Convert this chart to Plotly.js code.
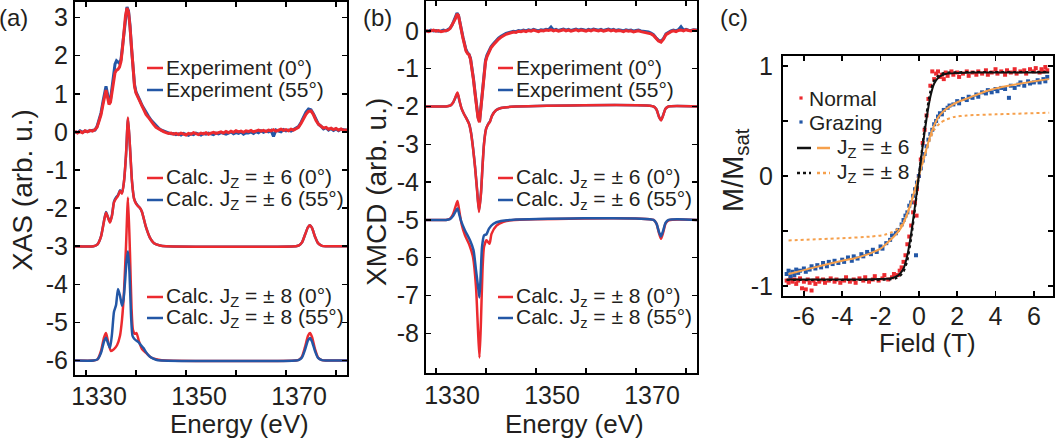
<!DOCTYPE html>
<html><head><meta charset="utf-8">
<script src="https://cdn.plot.ly/plotly-3.0.1.min.js"></script>
<style>html,body{margin:0;padding:0;background:#fff;}#g{width:1056px;height:443px;}</style>
</head><body><div id="g"></div>
<script>
// ---------------- Panel (a): XAS ----------------
const xasE = [1327.8,1328.3,1328.8,1329.3,1329.8,1330.3,1330.8,1331.3,1331.8,
1332.2,1332.6,1333.0,1333.4,
1333.7,1334.0,1334.3,1334.6,1334.9,1335.2,1335.5,1335.8,1336.1,1336.4,1336.7,1337.0,1337.3,1337.6,1337.9,1338.2,1338.5,1338.8,1339.1,1339.4,1339.7,
1340.0,1340.4,1340.8,1341.2,1341.6,1342.0,
1342.5,1343.0,1343.5,1344.0,1344.5,1345.0,1345.5,1346.0,1346.5,1347.0,
1347.5,1348.0,1348.5,1349.0,1349.5,1350.0,1350.5,1351.0,1351.5,1352.0,
1352.5,1353.0,1353.5,1354.0,1354.5,1355.0,1355.5,1356.0,1356.5,1357.0,
1357.5,1358.0,1358.5,1359.0,1359.5,1360.0,1360.5,1361.0,1361.5,1362.0,
1362.5,1363.0,1363.5,1364.0,1364.5,1365.0,1365.5,1366.0,1366.5,1367.0,
1367.5,1368.0,1368.5,1369.0,1369.5,1370.0,1370.5,1371.0,1371.5,1372.0,
1372.5,1373.0,1373.5,1374.0,1374.5,1375.0,1375.5,1376.0,1376.5,1377.0,
1377.5,1378.0,1378.5,1379.0,1379.5,1380.0,1380.5,1381.0,1381.5,1382.2];
const xasExp0 = [0.02,-0.03,0.01,-0.02,0.03,0.0,0.04,0.02,0.06,
0.12,0.28,0.45,0.72,
0.95,1.1,0.92,0.72,0.78,1.05,1.4,1.55,1.62,1.64,1.7,1.85,2.2,2.65,3.05,3.25,3.15,2.75,2.15,1.55,1.2,
1.02,0.9,0.78,0.66,0.56,0.46,
0.38,0.28,0.2,0.12,0.08,0.03,0.01,-0.02,-0.04,-0.03,
-0.06,-0.04,-0.07,-0.03,-0.05,-0.08,-0.04,-0.06,-0.02,-0.05,
-0.07,-0.03,-0.05,-0.02,-0.06,-0.03,-0.01,-0.04,-0.02,0.0,
-0.03,0.01,-0.02,0.02,-0.01,0.03,0.0,0.02,-0.01,0.03,
0.01,0.04,0.0,0.03,0.05,0.02,0.04,0.01,0.05,0.03,
0.06,0.02,0.05,0.07,0.04,0.06,0.03,0.07,0.05,0.08,
0.12,0.22,0.35,0.46,0.54,0.55,0.45,0.3,0.2,0.14,
0.1,0.12,0.07,0.1,0.06,0.09,0.05,0.08,0.04,0.06];
const xasExp55 = [0.0,-0.02,0.03,-0.01,0.02,0.01,0.03,0.04,0.05,
0.14,0.3,0.5,0.8,
1.05,1.2,1.0,0.78,0.85,1.15,1.55,1.78,1.87,1.84,1.8,1.9,2.25,2.7,3.1,3.28,3.18,2.8,2.2,1.6,1.25,
1.05,0.95,0.82,0.7,0.6,0.5,
0.41,0.31,0.23,0.15,0.1,0.05,0.02,0.0,-0.03,-0.05,
-0.04,-0.07,-0.05,-0.08,-0.04,-0.06,-0.09,-0.05,-0.07,-0.03,
-0.06,-0.08,-0.04,-0.06,-0.03,-0.05,-0.07,-0.03,-0.05,-0.02,
-0.04,-0.06,-0.03,0.0,-0.05,-0.02,-0.04,0.0,-0.06,-0.02,
-0.03,0.0,-0.04,0.01,-0.02,0.03,-0.01,0.02,0.0,0.04,
-0.12,0.05,0.02,0.0,0.06,0.03,0.05,0.02,0.06,0.09,
0.14,0.25,0.4,0.52,0.6,0.58,0.47,0.32,0.2,0.15,
0.08,0.11,0.05,0.09,0.04,0.08,0.03,0.07,0.05,0.04];

const xas6E = [1327.8,1331.5,1332.3,1333.0,1333.6,1334.0,1334.4,1334.8,1335.2,1335.6,1336.0,1336.4,1336.8,1337.2,1337.6,1338.0,1338.4,1338.8,1339.2,1339.6,1340.0,1340.4,1340.8,1341.2,1341.6,1342.0,1342.8,1343.6,1344.8,1346.0,1372.0,1372.6,1373.2,1373.8,1374.4,1374.8,1375.2,1375.8,1376.4,1377.2,1378.0,1382.2];
const xas6V0 = [-3.0,-3.0,-2.95,-2.75,-2.35,-2.12,-2.25,-2.38,-2.2,-1.85,-1.75,-1.68,-1.55,-1.62,-1.3,-0.6,0.38,-0.4,-1.3,-1.75,-1.88,-1.95,-2.0,-2.1,-2.3,-2.5,-2.78,-2.92,-2.98,-3.0,-3.0,-2.98,-2.9,-2.7,-2.5,-2.45,-2.52,-2.75,-2.92,-2.99,-3.0,-3.0];
const xas6V55 = [-3.0,-3.0,-2.95,-2.74,-2.33,-2.1,-2.24,-2.36,-2.18,-1.83,-1.72,-1.66,-1.53,-1.6,-1.3,-0.62,0.35,-0.42,-1.3,-1.74,-1.87,-1.94,-2.0,-2.1,-2.3,-2.5,-2.78,-2.92,-2.98,-3.0,-3.0,-2.98,-2.9,-2.7,-2.5,-2.45,-2.52,-2.75,-2.92,-2.99,-3.0,-3.0];

const xas8E0 = [1327.8,1331.5,1332.3,1333.0,1333.6,1334.0,1334.4,1335.0,1335.6,1336.2,1336.8,1337.2,1337.6,1338.0,1338.4,1338.8,1339.1,1339.4,1339.8,1340.1,1340.6,1341.2,1342.0,1343.0,1344.5,1346.0,1372.0,1372.6,1373.2,1373.8,1374.4,1374.8,1375.2,1375.8,1376.4,1377.2,1378.0,1382.2];
const xas8V0 = [-6,-6,-5.97,-5.75,-5.4,-5.28,-5.5,-5.75,-5.7,-5.6,-5.35,-4.93,-4.2,-3.0,-1.72,-3.2,-4.6,-5.2,-5.3,-5.28,-5.5,-5.7,-5.8,-5.92,-5.98,-6,-6,-5.98,-5.9,-5.65,-5.35,-5.28,-5.38,-5.7,-5.92,-5.99,-6,-6];
const xas8E55 = [1327.8,1331.5,1332.3,1333.0,1333.6,1334.0,1334.4,1334.8,1335.2,1335.6,1336.0,1336.4,1336.8,1337.2,1337.5,1337.8,1338.1,1338.4,1338.7,1339.0,1339.3,1339.6,1340.0,1340.5,1341.0,1341.5,1342.0,1342.8,1344.0,1345.0,1372.0,1372.6,1373.2,1373.8,1374.4,1374.8,1375.2,1375.8,1376.4,1377.2,1378.0,1382.2];
const xas8V55 = [-6,-6,-5.97,-5.8,-5.5,-5.4,-5.55,-5.67,-5.3,-4.72,-4.55,-4.12,-4.3,-4.56,-4.4,-3.95,-3.4,-3.13,-3.7,-4.8,-5.35,-5.42,-5.47,-5.52,-5.6,-5.67,-5.78,-5.9,-5.98,-6,-6,-5.98,-5.92,-5.72,-5.47,-5.41,-5.5,-5.75,-5.93,-5.99,-6,-6];

// ---------------- Panel (b): XMCD ----------------
const mcdE = [1328.0,1328.5,1329.0,1329.5,1330.0,1330.5,1331.0,1331.5,1332.0,
1332.4,1332.8,1333.2,1333.6,
1333.9,1334.2,1334.5,1334.8,1335.1,1335.4,1335.7,1336.0,1336.3,1336.6,1336.9,1337.2,1337.5,1337.8,1338.1,1338.4,1338.7,1339.0,1339.3,1339.6,1339.9,
1340.2,1340.6,1341.0,1341.4,1341.8,1342.1,
1342.5,1343.0,1343.5,1344.0,1344.5,1345.0,1345.5,1346.0,1346.5,1347.0,
1347.5,1348.0,1348.5,1349.0,1349.5,1350.0,1350.5,1351.0,1351.5,1352.0,
1352.5,1353.0,1353.5,1354.0,1354.5,1355.0,1355.5,1356.0,1356.5,1357.0,
1357.5,1358.0,1358.5,1359.0,1359.5,1360.0,1360.5,1361.0,1361.5,1362.0,
1362.5,1363.0,1363.5,1364.0,1364.5,1365.0,1365.5,1366.0,1366.5,1367.0,
1367.5,1368.0,1368.5,1369.0,1369.5,1370.0,1370.5,1371.0,1371.5,1372.0,
1372.5,1373.0,1373.5,1374.0,1374.5,1375.0,1375.5,1376.0,1376.5,1377.0,
1377.5,1378.0,1378.5,1379.0,1379.5,1380.0,1380.5,1381.0,1381.5,1382.2];
const mcdExp0 = [0.01,-0.02,0.0,0.02,-0.01,0.01,-0.02,0.0,0.01,
0.02,0.06,0.14,0.25,
0.33,0.45,0.4,0.15,0.0,-0.2,-0.42,-0.53,-0.6,-0.63,-0.75,-0.98,-1.3,-1.65,-2.0,-2.3,-2.42,-2.0,-1.5,-1.06,-0.82,
-0.68,-0.55,-0.45,-0.38,-0.31,-0.26,
-0.22,-0.17,-0.12,-0.09,-0.07,-0.05,-0.03,-0.04,-0.01,-0.02,
0.0,-0.02,0.01,-0.01,0.02,0.0,-0.02,0.01,0.0,0.02,
0.01,0.03,0.0,0.02,-0.01,0.01,0.03,0.0,0.02,-0.01,
0.01,0.03,0.0,0.02,0.01,-0.01,0.02,0.0,0.03,0.01,
0.0,0.02,-0.01,0.01,0.03,0.0,0.02,-0.01,0.01,0.0,
-0.02,0.01,-0.01,0.0,-0.03,-0.01,0.0,-0.02,-0.03,-0.04,
-0.05,-0.08,-0.12,-0.2,-0.27,-0.3,-0.22,-0.1,-0.05,-0.02,
0.0,-0.02,0.01,0.02,0.0,0.03,0.01,0.0,0.02,0.01];
const mcdExp55 = [0.0,-0.01,0.02,0.0,0.01,-0.01,0.0,0.02,0.0,
0.03,0.07,0.15,0.27,
0.35,0.47,0.41,0.17,0.02,-0.17,-0.38,-0.5,-0.58,-0.62,-0.73,-0.95,-1.27,-1.62,-1.97,-2.27,-2.4,-1.97,-1.45,-1.02,-0.78,
-0.64,-0.51,-0.42,-0.35,-0.28,-0.23,
-0.19,-0.14,-0.1,-0.07,-0.05,-0.03,-0.01,-0.02,0.01,0.0,
0.02,0.0,0.03,0.01,0.04,0.02,0.0,0.03,0.02,0.04,
0.03,0.1,0.02,0.04,0.01,0.03,0.05,0.02,0.04,0.01,
0.03,0.05,0.02,0.04,0.03,0.01,0.04,0.02,0.05,0.03,
0.02,0.04,0.01,0.03,0.05,0.02,0.04,0.01,0.03,0.02,
0.0,0.03,0.01,0.02,-0.01,0.01,0.02,0.0,-0.01,-0.02,
-0.03,-0.06,-0.1,-0.18,-0.25,-0.28,-0.2,-0.08,-0.03,0.0,
0.02,0.0,0.03,0.11,0.02,0.04,0.02,0.01,0.03,0.02];

const mcd6E = [1328.0,1332.0,1332.8,1333.4,1333.9,1334.3,1334.7,1335.1,1335.6,1336.2,1336.6,1337.0,1337.4,1337.8,1338.2,1338.6,1339.0,1339.3,1339.6,1340.0,1340.4,1340.8,1341.2,1342.0,1343.0,1345.0,1373.5,1374.1,1374.6,1375.0,1375.4,1375.9,1376.5,1382.2];
const mcd6V0 = [-2,-2,-1.98,-1.9,-1.75,-1.63,-1.85,-2.05,-2.2,-2.35,-2.46,-2.7,-3.1,-3.6,-4.2,-4.79,-4.3,-3.6,-3.0,-2.6,-2.48,-2.4,-2.25,-2.1,-2.04,-2.01,-2,-2.08,-2.28,-2.37,-2.25,-2.06,-2,-2];
const mcd6V55 = [-2,-2,-1.98,-1.9,-1.76,-1.65,-1.86,-2.05,-2.2,-2.34,-2.45,-2.68,-3.08,-3.58,-4.17,-4.75,-4.27,-3.58,-2.98,-2.6,-2.47,-2.39,-2.24,-2.1,-2.04,-2.01,-2,-2.08,-2.27,-2.36,-2.24,-2.06,-2,-2];

const mcd8E0 = [1328.0,1332.0,1332.8,1333.4,1333.9,1334.3,1334.7,1335.1,1335.8,1336.7,1337.4,1338.0,1338.4,1338.7,1339.0,1339.3,1339.6,1340.1,1340.7,1341.1,1342.1,1343.5,1345.0,1373.5,1374.1,1374.6,1375.0,1375.4,1375.9,1376.5,1382.2];
const mcd8V0 = [-5,-5,-4.97,-4.85,-4.65,-4.5,-4.8,-5.1,-5.41,-5.67,-5.98,-6.77,-7.92,-8.64,-7.65,-6.33,-5.72,-5.54,-5.63,-5.37,-5.15,-5.05,-5.01,-5,-5.1,-5.35,-5.5,-5.35,-5.1,-5.01,-5];
const mcd8E55 = [1328.0,1332.0,1332.8,1333.4,1333.9,1334.3,1334.7,1335.1,1335.8,1336.8,1337.5,1338.0,1338.5,1338.7,1338.95,1339.2,1339.6,1340.1,1340.6,1341.5,1343.0,1345.0,1373.5,1374.1,1374.6,1375.0,1375.4,1375.9,1376.5,1382.2];
const mcd8V55 = [-5,-5,-4.98,-4.9,-4.78,-4.7,-4.88,-5.06,-5.28,-5.54,-5.8,-6.33,-6.86,-7.05,-6.42,-5.72,-5.41,-5.38,-5.23,-5.1,-5.03,-5.0,-5,-5.1,-5.32,-5.44,-5.3,-5.08,-5,-5];

// ---------------- Panel (c): magnetisation ----------------
const normB = [-6.9,-6.8,-6.7,-6.6,-6.5,-6.4,-6.3,-6.2,-6.1,-6.0,-5.9,-5.8,-5.7,-5.6,-5.5,-5.4,-5.3,-5.2,-5.0,-4.9,-4.7,-4.6,-4.4,-4.3,-4.1,-3.9,-3.8,-3.6,-3.4,-3.3,-3.1,-2.9,-2.8,-2.6,-2.4,-2.3,-2.1,-1.9,-1.8,-1.6,-1.4,-1.3,-1.1,-1.0,-0.9,-0.8,-0.7,-0.6,-0.5,-0.4,-0.3,-0.12,-0.2,-0.1,0.0,0.1,0.2,0.3,0.4,0.5,0.6,0.7,0.8,0.9,1.0,1.1,1.2,1.3,1.4,1.5,1.7,1.8,2.0,2.1,2.3,2.5,2.6,2.8,3.0,3.1,3.3,3.5,3.6,3.8,4.0,4.1,4.3,4.5,4.6,4.8,5.0,5.1,5.3,5.5,5.6,5.8,6.0,6.1,6.3,6.4,6.5,6.6,6.7];
const normM = [-0.95,-0.97,-0.93,-0.96,-0.94,-0.98,-0.95,-0.93,-1.02,-0.96,-1.03,-0.94,-0.97,-1.04,-0.95,-0.98,-0.93,-0.96,-0.94,-0.97,-0.95,-0.93,-0.96,-0.94,-0.97,-0.95,-0.92,-0.96,-0.94,-0.97,-0.93,-0.95,-0.92,-0.96,-0.94,-0.91,-0.95,-0.93,-0.9,-0.94,-0.92,-0.89,-0.9,-0.86,-0.83,-0.78,-0.72,-0.62,-0.55,-0.45,-0.33,-0.36,-0.24,-0.12,0.0,0.15,0.3,0.42,0.55,0.7,0.82,0.95,0.88,0.93,0.95,0.9,0.92,0.88,0.94,0.91,0.95,0.92,0.94,0.9,0.93,0.95,0.91,0.94,0.92,0.95,0.93,0.96,0.92,0.94,0.97,0.93,0.95,0.92,0.96,0.94,0.97,0.93,0.95,0.96,0.93,0.97,0.95,0.98,0.94,0.97,0.95,0.99,0.96];
const grazB = [-6.9,-6.8,-6.7,-6.6,-6.5,-6.4,-6.3,-6.2,-6.0,-5.9,-5.7,-5.6,-5.4,-5.3,-5.1,-5.0,-4.8,-4.7,-4.5,-4.4,-4.2,-4.0,-3.9,-3.7,-3.5,-3.4,-3.2,-3.0,-2.9,-2.7,-2.5,-2.4,-2.2,-2.0,-1.9,-1.7,-1.5,-1.4,-1.2,-1.1,-0.9,-0.8,-0.7,-0.6,-0.5,-0.4,-0.3,-0.15,-0.2,-0.1,0.0,0.1,0.2,0.3,0.4,0.5,0.6,0.7,0.8,0.9,1.0,1.1,1.2,1.3,1.5,1.6,1.8,2.0,2.1,2.3,2.5,2.6,2.8,3.0,3.1,3.3,3.5,3.6,3.8,4.0,4.1,4.3,4.5,4.7,4.8,5.0,5.2,5.3,5.5,5.7,5.8,6.0,6.2,6.3,6.5,6.6,6.7];
const grazM = [-0.89,-0.86,-0.91,-0.87,-0.9,-0.85,-0.88,-0.86,-0.84,-0.87,-0.85,-0.82,-0.84,-0.81,-0.83,-0.79,-0.82,-0.78,-0.8,-0.77,-0.79,-0.76,-0.78,-0.74,-0.77,-0.73,-0.75,-0.71,-0.73,-0.69,-0.71,-0.67,-0.69,-0.64,-0.66,-0.61,-0.58,-0.54,-0.52,-0.49,-0.44,-0.4,-0.36,-0.33,-0.27,-0.24,-0.18,-0.72,-0.12,-0.06,0.0,0.07,0.14,0.2,0.27,0.33,0.38,0.42,0.47,0.5,0.54,0.57,0.56,0.6,0.62,0.64,0.65,0.68,0.66,0.7,0.69,0.72,0.71,0.74,0.72,0.76,0.75,0.78,0.76,0.79,0.77,0.8,0.79,0.71,0.82,0.8,0.83,0.85,0.82,0.86,0.84,0.85,0.87,0.85,0.88,0.86,0.9];

const fitN6B = [-6.9,-3,-2,-1.5,-1.2,-1.0,-0.8,-0.6,-0.4,-0.2,0,0.2,0.4,0.6,0.8,1.0,1.2,1.5,2,3,6.8];
const fitN6M = [-0.94,-0.94,-0.935,-0.93,-0.915,-0.89,-0.84,-0.72,-0.52,-0.27,0,0.27,0.52,0.72,0.84,0.89,0.915,0.93,0.935,0.94,0.94];
const fitN8B = [-6.9,-3,-2,-1.5,-1.2,-1.0,-0.8,-0.6,-0.4,-0.2,0,0.2,0.4,0.6,0.8,1.0,1.2,1.5,2,3,6.8];
const fitN8M = [-0.945,-0.945,-0.943,-0.94,-0.93,-0.91,-0.87,-0.77,-0.57,-0.3,0,0.3,0.57,0.77,0.87,0.91,0.93,0.94,0.943,0.945,0.945];
const fitG6B = [-6.8,-6,-5,-4,-3.4,-3,-2.5,-2,-1.6,-1.3,-1,-0.8,-0.6,-0.4,-0.2,0,0.2,0.4,0.6,0.8,1.0,1.3,1.6,2,2.6,3.5,4.4,5.3,6.8];
const fitG6M = [-0.89,-0.855,-0.81,-0.77,-0.75,-0.73,-0.70,-0.66,-0.6,-0.55,-0.49,-0.43,-0.34,-0.24,-0.12,0,0.13,0.25,0.37,0.46,0.53,0.59,0.63,0.67,0.71,0.77,0.81,0.84,0.88];
const fitG8B = [-6.8,-4,-2.5,-1.8,-1.4,-1.1,-0.8,-0.6,-0.4,-0.2,0,0.2,0.4,0.6,0.8,1.1,1.4,1.8,2.5,4,6.8];
const fitG8M = [-0.585,-0.565,-0.55,-0.535,-0.51,-0.48,-0.42,-0.34,-0.24,-0.12,0,0.12,0.24,0.34,0.42,0.48,0.51,0.535,0.55,0.56,0.575];

// ---------------- tick labels & texts ----------------
const eTickVals = [1330,1350,1370];
const eTickText = ['1330','1350','1370'];
const eMinorVals = [1340,1360,1380];
const xasTickVals = [-6,-5,-4,-3,-2,-1,0,1,2,3];
const xasTickText = ['-6','-5','-4','-3','-2','-1','0','1','2','3'];
const mcdTickVals = [-8,-7,-6,-5,-4,-3,-2,-1,0];
const mcdTickText = ['-8','-7','-6','-5','-4','-3','-2','-1','0'];
const fTickVals = [-6,-4,-2,0,2,4,6];
const fTickText = ['-6','-4','-2','0','2','4','6'];
const mTickVals = [-1,0,1];
const mTickText = ['-1','0','1'];
const mMinorVals = [-0.5,0.5];
const legA = ['Experiment (0°)','Experiment (55°)','Calc. J<sub>Z</sub> = ± 6 (0°)','Calc. J<sub>Z</sub> = ± 6 (55°)','Calc. J<sub>Z</sub> = ± 8 (0°)','Calc. J<sub>Z</sub> = ± 8 (55°)'];
const legB = ['Experiment (0°)','Experiment (55°)','Calc. J<sub>z</sub> = ± 6 (0°)','Calc. J<sub>z</sub> = ± 6 (55°)','Calc. J<sub>z</sub> = ± 8 (0°)','Calc. J<sub>z</sub> = ± 8 (55°)'];
const legC = ['Normal','Grazing','J<sub>Z</sub> = ± 6','J<sub>Z</sub> = ± 8'];

// ---------------- styling ----------------
const W = 1056, H = 443;
const RED = '#ec2a2f', BLUE = '#2357a6', ORANGE = '#f6a04c', BLACK = '#111111', TXT = '#231f20';
const FONT = 'Liberation Sans, Arial, Helvetica, sans-serif';
const X = p => p / W, Y = p => 1 - p / H;

function ln(x, y, xa, ya, color, width, shape, dash) {
  return {x: x, y: y, xaxis: xa, yaxis: ya, type: 'scatter', mode: 'lines', showlegend: false, hoverinfo: 'skip',
    line: {color: color, width: width, shape: shape || 'linear', smoothing: 0.6, dash: dash || 'solid'}};
}
const traces = [
  ln(xasE, xasExp55, 'x', 'y', BLUE, 3),
  ln(xasE, xasExp0, 'x', 'y', RED, 3),
  ln(xas6E, xas6V55, 'x', 'y', BLUE, 2.5, 'spline'),
  ln(xas6E, xas6V0, 'x', 'y', RED, 2.5, 'spline'),
  ln(xas8E0, xas8V0, 'x', 'y', RED, 2.5, 'spline'),
  ln(xas8E55, xas8V55, 'x', 'y', BLUE, 2.5, 'spline'),
  ln(mcdE, mcdExp55, 'x2', 'y2', BLUE, 3),
  ln(mcdE, mcdExp0, 'x2', 'y2', RED, 3),
  ln(mcd6E, mcd6V55, 'x2', 'y2', BLUE, 2.5, 'spline'),
  ln(mcd6E, mcd6V0, 'x2', 'y2', RED, 2.5, 'spline'),
  ln(mcd8E0, mcd8V0, 'x2', 'y2', RED, 2.5, 'spline'),
  ln(mcd8E55, mcd8V55, 'x2', 'y2', BLUE, 2.5, 'spline'),
  {x: normB, y: normM, xaxis: 'x3', yaxis: 'y3', type: 'scatter', mode: 'markers', showlegend: false, hoverinfo: 'skip',
    marker: {color: RED, size: 4, symbol: 'square'}},
  {x: grazB, y: grazM, xaxis: 'x3', yaxis: 'y3', type: 'scatter', mode: 'markers', showlegend: false, hoverinfo: 'skip',
    marker: {color: BLUE, size: 4, symbol: 'square'}},
  ln(fitG8B, fitG8M, 'x3', 'y3', ORANGE, 2, 'spline', 'dot'),
  ln(fitG6B, fitG6M, 'x3', 'y3', ORANGE, 2, 'spline'),
  ln(fitN8B, fitN8M, 'x3', 'y3', BLACK, 2, 'spline', 'dot'),
  ln(fitN6B, fitN6M, 'x3', 'y3', BLACK, 2, 'spline')
];

const minorBase = {ticks: 'inside', ticklen: 5, tickwidth: 1.5, tickcolor: '#000', showgrid: false};
const axBase = {showline: true, linecolor: '#000', linewidth: 2, mirror: 'allticks', ticks: 'inside', ticklen: 5,
  tickwidth: 1.5, tickcolor: '#000', showgrid: false, zeroline: false, tickmode: 'array',
  tickfont: {family: FONT, size: 25, color: TXT}};
function ax(o) { return Object.assign({}, axBase, o); }

const shapes = [], annotations = [];
function legLine(x0, x1, y, color, dash) {
  shapes.push({type: 'line', xref: 'paper', yref: 'paper', x0: X(x0), x1: X(x1), y0: Y(y), y1: Y(y),
    line: {color: color, width: 2.5, dash: dash || 'solid'}});
}
function legDot(x, y, color) {
  shapes.push({type: 'rect', xref: 'paper', yref: 'paper', x0: X(x - 1.6), x1: X(x + 1.6), y0: Y(y + 1.6), y1: Y(y - 1.6),
    fillcolor: color, line: {width: 0}});
}
function txt(x, y, text, size, opts) {
  annotations.push(Object.assign({xref: 'paper', yref: 'paper', x: X(x), y: Y(y), text: text, showarrow: false,
    xanchor: 'left', yanchor: 'middle', font: {family: FONT, size: size, color: TXT}}, opts || {}));
}
// legends (a) and (b)
const legAy = [68, 90, 178, 200, 297, 318];
const legCol = [RED, BLUE, RED, BLUE, RED, BLUE];
legAy.forEach((y, i) => { legLine(147, 163, y, legCol[i]); txt(164, y, legA[i], 21); });
legAy.forEach((y, i) => { legLine(498, 513, y, legCol[i]); txt(514, y, legB[i], 21); });
// legend (c)
legDot(801, 98, RED); txt(807, 98, legC[0], 21);
legDot(801, 122, BLUE); txt(807, 122, legC[1], 21);
legLine(797, 811, 148, BLACK); legLine(817, 830, 148, ORANGE); txt(835, 148, legC[2], 21);
legLine(797, 811, 173, BLACK, 'dot'); legLine(817, 830, 173, ORANGE, 'dot'); txt(835, 173, legC[3], 21);
// panel labels
txt(13, 18, '(a)', 24, {xanchor: 'center'});
txt(377, 18, '(b)', 24, {xanchor: 'center'});
txt(734, 18, '(c)', 24, {xanchor: 'center'});
// axis titles
txt(239, 424, 'Energy (eV)', 26, {xanchor: 'center'});
txt(574, 424, 'Energy (eV)', 26, {xanchor: 'center'});
txt(927, 343, 'Field (T)', 26, {xanchor: 'center'});
txt(22, 190, 'XAS (arb. u.)', 28, {xanchor: 'center', textangle: -90});
txt(376, 192, 'XMCD (arb. u.)', 28, {xanchor: 'center', textangle: -90});
txt(735, 170, 'M/M<sub>sat</sub>', 29, {xanchor: 'center', textangle: -90});

const layout = {
  width: W, height: H, margin: {l: 0, r: 0, t: 0, b: 0}, paper_bgcolor: '#fff', plot_bgcolor: '#fff',
  showlegend: false, font: {family: FONT, color: TXT},
  xaxis: ax({domain: [X(75), X(347)], range: [1327.8, 1382.2], anchor: 'y', tickvals: eTickVals, ticktext: eTickText,
    ticklabelshift: 13, ticklabelstandoff: -2, minor: Object.assign({tickvals: eMinorVals}, minorBase)}),
  yaxis: ax({domain: [Y(375), Y(2)], range: [-6.38, 3.41], anchor: 'x', tickvals: xasTickVals, ticktext: xasTickText}),
  xaxis2: ax({domain: [X(426), X(697)], range: [1328.0, 1382.2], anchor: 'y2', tickvals: eTickVals, ticktext: eTickText,
    ticklabelshift: 16, ticklabelstandoff: -1, minor: Object.assign({tickvals: eMinorVals}, minorBase)}),
  yaxis2: ax({domain: [Y(373), Y(1)], range: [-9.05, 0.79], anchor: 'x2', tickvals: mcdTickVals, ticktext: mcdTickText}),
  xaxis3: ax({domain: [X(783), X(1053)], range: [-7.09, 7.0], anchor: 'y3', tickvals: fTickVals, ticktext: fTickText,
    ticklabelstandoff: -3}),
  yaxis3: ax({domain: [Y(296), Y(56)], range: [-1.09, 1.09], anchor: 'x3', tickvals: mTickVals, ticktext: mTickText,
    ticklabelstandoff: 3, minor: Object.assign({tickvals: mMinorVals}, minorBase)}),
  shapes: shapes, annotations: annotations
};
Plotly.newPlot('g', traces, layout, {displayModeBar: false, staticPlot: true});
</script>
</body></html>
